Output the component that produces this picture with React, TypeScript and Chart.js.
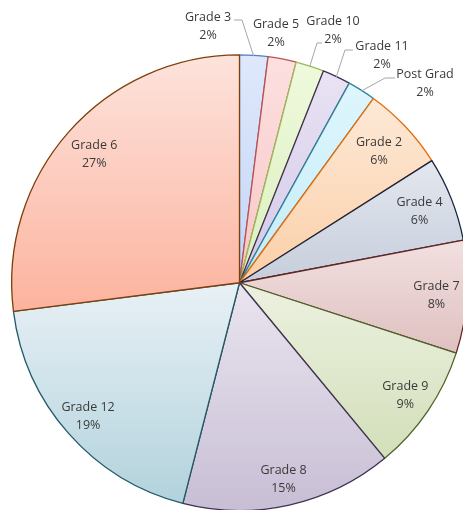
import React, { useEffect, useRef } from "react";
import { Chart, registerables } from "chart.js";

Chart.register(...registerables);

const categories = ["Grade 3", "Grade 5", "Grade 10", "Grade 11", "Post Grad", "Grade 2", "Grade 4", "Grade 7", "Grade 9", "Grade 8", "Grade 12", "Grade 6"];
const percentages = [2, 2, 2, 2, 2, 6, 6, 8, 9, 15, 19, 27];
const percentLabels = ["2%", "2%", "2%", "2%", "2%", "6%", "6%", "8%", "9%", "15%", "19%", "27%"];

// styles: gradient top, gradient bottom, border
const topColors = ["#dfe8fb", "#fde0e0", "#eff9dd", "#e9e3f4", "#dff6fd", "#fde9d7", "#e3e7ef", "#f2e0e0", "#ecf1e0", "#e9e5ef", "#e8f1f6", "#fde3dc"];
const bottomColors = ["#c3d5f6", "#f8c6c6", "#dcefbd", "#d3c8e8", "#c2ecf9", "#fbcfa8", "#c6cedb", "#dfc0c0", "#d3dfba", "#c8bed5", "#b2d2dc", "#fcb39e"];
const borderColors = ["#4f81bd", "#c0504d", "#9bbb59", "#3f3151", "#31859c", "#e46c0a", "#17243d", "#632523", "#4f6228", "#3f3151", "#215967", "#7f3f0a"];

// label layout: "in" = radial factor along mid angle, "out" = explicit text centre + leader
type LabelLayout = { kind: "in"; f: number } | { kind: "out"; x: number; y: number; leader?: [number, number, number, number] };
const labelLayout: LabelLayout[] = [
  { kind: "out", x: 208, y: 26, leader: [234, 20, 242, 20] },
  { kind: "out", x: 276, y: 33 },
  { kind: "out", x: 333, y: 30, leader: [322, 43, 317, 43] },
  { kind: "out", x: 382, y: 55, leader: [353, 50, 345, 50] },
  { kind: "out", x: 425, y: 83, leader: [395, 78, 385, 78] },
  { kind: "in", f: 0.84 },
  { kind: "in", f: 0.85 },
  { kind: "in", f: 0.866 },
  { kind: "in", f: 0.88 },
  { kind: "in", f: 0.886 },
  { kind: "in", f: 0.886 },
  { kind: "in", f: 0.85 },
];

const FONT = "12.5px 'Open Sans'";
const LINE = 18;

function geometry(chart: any) {
  const a = chart.chartArea;
  const cx = (a.left + a.right) / 2;
  const cy = (a.top + a.bottom) / 2;
  const r = (Math.min(a.right - a.left, a.bottom - a.top) - 1.3) / 2;
  return { cx, cy, r };
}

function sliceAngles(i: number) {
  const total = percentages.reduce((s, v) => s + v, 0);
  let cum = 0;
  for (let k = 0; k < i; k++) cum += percentages[k];
  const start = -Math.PI / 2 + (2 * Math.PI * cum) / total;
  const end = start + (2 * Math.PI * percentages[i]) / total;
  return { start, end };
}

function gradientFor(context: any) {
  const chart = context.chart;
  const i = context.dataIndex;
  if (!chart.chartArea || i === undefined) return topColors[i ?? 0];
  const { cx, cy, r } = geometry(chart);
  const { start, end } = sliceAngles(i);
  const ys = [cy, cy + r * Math.sin(start), cy + r * Math.sin(end)];
  if (start <= Math.PI / 2 && end >= Math.PI / 2) ys.push(cy + r);
  if (end >= (3 * Math.PI) / 2 - 1e-6 || start <= -Math.PI / 2 + 1e-6) ys.push(cy - r);
  const minY = Math.min(...ys);
  const maxY = Math.max(...ys);
  const g = chart.ctx.createLinearGradient(0, minY, 0, maxY + 0.01);
  g.addColorStop(0, topColors[i]);
  g.addColorStop(1, bottomColors[i]);
  return g;
}

const labelPlugin = {
  id: "sliceLabels",
  afterDatasetsDraw(chart: any) {
    const ctx = chart.ctx;
    const { cx, cy, r } = geometry(chart);
    ctx.save();
    ctx.font = FONT;
    ctx.fillStyle = "#3a3a3a";
    ctx.textAlign = "center";
    ctx.textBaseline = "middle";
    categories.forEach((name, i) => {
      const lay = labelLayout[i];
      const { start, end } = sliceAngles(i);
      const mid = (start + end) / 2;
      let x: number, y: number;
      if (lay.kind === "in") {
        x = cx + Math.cos(mid) * r * lay.f;
        y = cy + Math.sin(mid) * r * lay.f;
      } else {
        x = lay.x;
        y = lay.y;
        if (lay.leader) {
          const [x1, y1, x2, y2] = lay.leader;
          ctx.beginPath();
          ctx.strokeStyle = "#a6a6a6";
          ctx.lineWidth = 1;
          ctx.moveTo(x1, y1);
          ctx.lineTo(x2, y2);
          ctx.lineTo(cx + Math.cos(mid) * (r - 1), cy + Math.sin(mid) * (r - 1));
          ctx.stroke();
        }
      }
      ctx.fillText(name, x, y - LINE / 2);
      ctx.fillText(percentLabels[i], x, y + LINE / 2);
    });
    ctx.restore();
  },
};

export default function App() {
  const ref = useRef<HTMLCanvasElement>(null);
  useEffect(() => {
    if (!ref.current) return;
    const chart = new Chart(ref.current, {
      type: "pie",
      data: {
        labels: categories,
        datasets: [
          {
            data: percentages,
            backgroundColor: gradientFor as any,
            borderColor: borderColors,
            borderWidth: 1.3,
          },
        ],
      },
      options: {
        responsive: false,
        animation: false,
        layout: { padding: { left: 11, top: 54, right: 12, bottom: 8.5 } },
        plugins: { legend: { display: false }, tooltip: { enabled: false } },
      },
      plugins: [labelPlugin],
    });
    return () => chart.destroy();
  }, []);
  return (
    <div style={{ position: "absolute", left: 0, top: 0, width: 463, height: 510, overflow: "hidden", background: "#fff" }}>
      <canvas ref={ref} width={480} height={520} style={{ display: "block" }} />
    </div>
  );
}
